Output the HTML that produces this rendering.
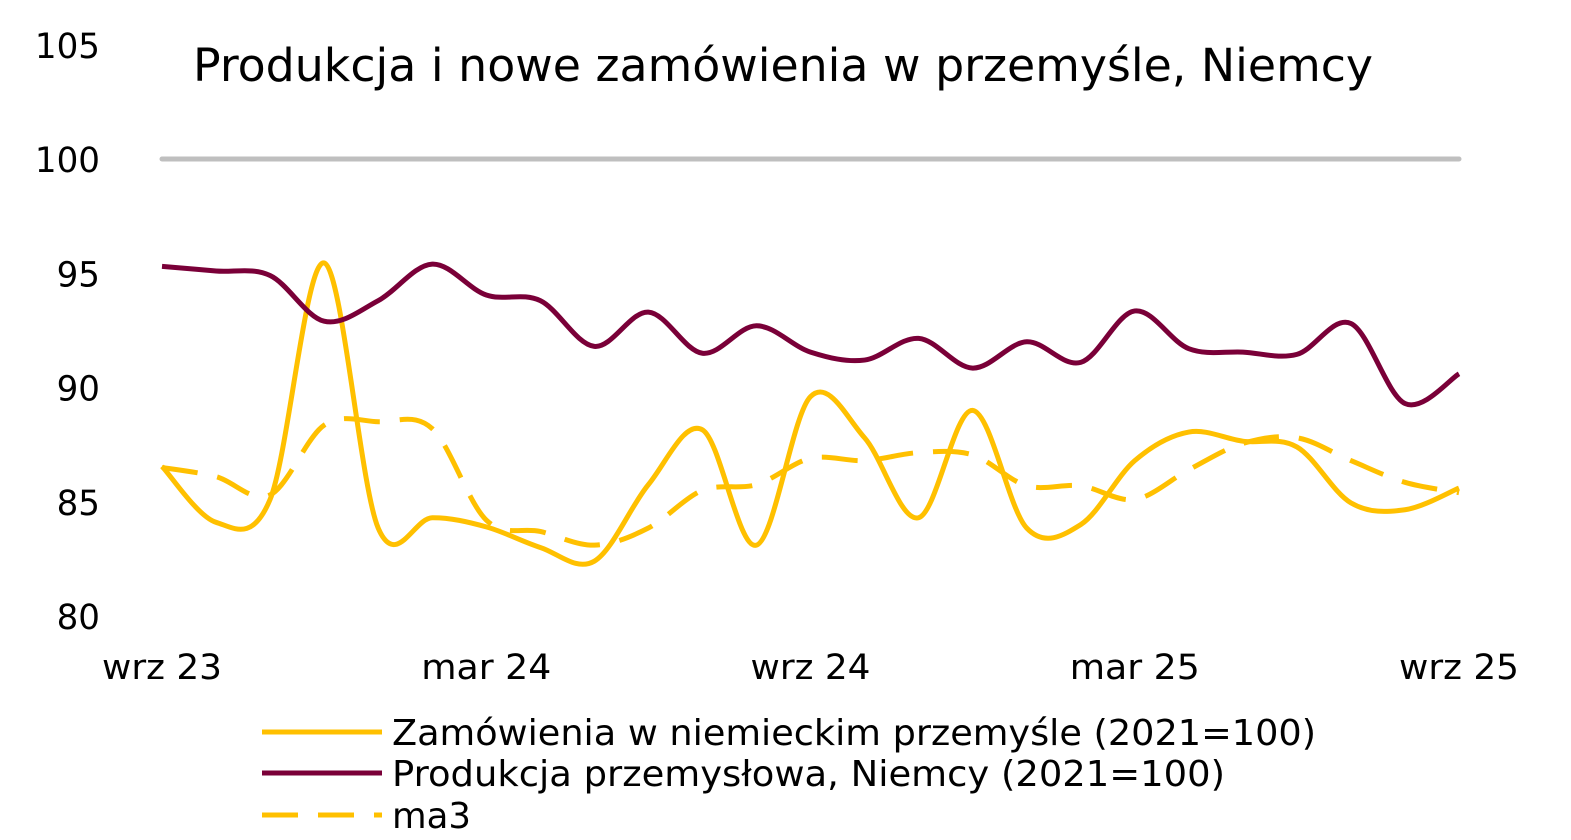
<!DOCTYPE html>
<html><head><meta charset="utf-8"><style>
html,body{margin:0;padding:0;background:#fff;}
svg{display:block;font-family:"DejaVu Sans","Liberation Sans",sans-serif;}
</style></head><body>
<svg id="chart" width="1571" height="840">
<text x="193" y="81" font-size="45" textLength="1180" lengthAdjust="spacingAndGlyphs" fill="#000">Produkcja i nowe zamówienia w przemyśle, Niemcy</text>
<g id="yaxis"></g>
<g id="xaxis"></g>
<line x1="162" x2="1459" y1="159" y2="159" stroke="#bfbfbf" stroke-width="5" stroke-linecap="round"/>
<g id="series"></g>
<g>
<line x1="262" x2="382" y1="732" y2="732" stroke="#ffc000" stroke-width="5"/>
<text x="392" y="745" font-size="36" textLength="924" lengthAdjust="spacingAndGlyphs">Zamówienia w niemieckim przemyśle (2021=100)</text>
<line x1="262" x2="382" y1="773" y2="773" stroke="#7a0038" stroke-width="5"/>
<text x="392" y="786" font-size="36" textLength="833" lengthAdjust="spacingAndGlyphs">Produkcja przemysłowa, Niemcy (2021=100)</text>
<line x1="262" x2="382" y1="815" y2="815" stroke="#ffc000" stroke-width="5" stroke-dasharray="36,20"/>
<text x="392" y="828" font-size="36" textLength="79" lengthAdjust="spacingAndGlyphs">ma3</text>
</g>
</svg>
<script>
const yTicks=[80,85,90,95,100,105];
const xLabels=["wrz 23","mar 24","wrz 24","mar 25","wrz 25"];
const xLabelIdx=[0,6,12,18,24];
const production=[95.3,95.1,94.9,92.9,93.8,95.4,94.05,93.8,91.8,93.3,91.5,92.7,91.55,91.2,92.15,90.85,92.0,91.1,93.35,91.7,91.55,91.45,92.8,89.3,90.6];
const orders=[86.55,84.1,85.1,95.45,83.85,84.3,83.9,83.0,82.4,85.75,88.15,83.1,89.6,87.8,84.3,89.0,83.85,84.0,86.8,88.05,87.65,87.4,84.95,84.65,85.6];
const ma3=[86.5,86.1,85.3,88.35,88.5,88.2,84.2,83.7,83.1,83.85,85.5,85.75,86.9,86.8,87.15,87.05,85.7,85.7,85.1,86.4,87.55,87.8,86.8,85.85,85.4];
const NS="http://www.w3.org/2000/svg";
const x=i=>162+i*(1459-162)/24;
const y=v=>616-(v-80)*(616-159)/20;
function mk(t,a,p){const e=document.createElementNS(NS,t);for(const k in a)e.setAttribute(k,a[k]);p.appendChild(e);return e;}
const ya=document.getElementById('yaxis');
yTicks.forEach(v=>{const s=String(v);const t=mk('text',{x:100-(s.length*21.7),y:y(v)+13,'font-size':35,textLength:s.length*21.7,lengthAdjust:'spacingAndGlyphs'},ya);t.textContent=s;

});
const xa=document.getElementById('xaxis');
xLabels.forEach((l,k)=>{const w=l.startsWith('mar')?130:120;const t=mk('text',{x:x(xLabelIdx[k])-w/2,y:679,'font-size':35,textLength:w,lengthAdjust:'spacingAndGlyphs'},xa);t.textContent=l;

});
function smooth(vals){const p=vals.map((v,i)=>[x(i),y(v)]);let d=`M${p[0][0]},${p[0][1]}`;
for(let i=0;i<p.length-1;i++){const p0=p[i-1]||p[i],p1=p[i],p2=p[i+1],p3=p[i+2]||p2;
const c1=[p1[0]+(p2[0]-p0[0])/6,p1[1]+(p2[1]-p0[1])/6],c2=[p2[0]-(p3[0]-p1[0])/6,p2[1]-(p3[1]-p1[1])/6];
d+=` C${c1[0]},${c1[1]} ${c2[0]},${c2[1]} ${p2[0]},${p2[1]}`;}return d;}
const s=document.getElementById('series');
const a=mk('path',{d:smooth(ma3),fill:'none',stroke:'#ffc000','stroke-width':5,'stroke-dasharray':'36,20'},s);


const b=mk('path',{d:smooth(orders),fill:'none',stroke:'#ffc000','stroke-width':5},s);


const c=mk('path',{d:smooth(production),fill:'none',stroke:'#7a0038','stroke-width':5},s);


</script>
</body></html>
